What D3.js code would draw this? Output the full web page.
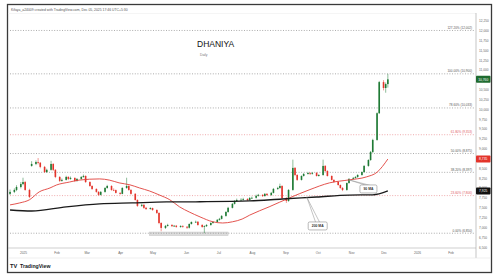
<!DOCTYPE html>
<html>
<head>
<meta charset="utf-8">
<script src="https://cdnjs.cloudflare.com/ajax/libs/d3/7.8.5/d3.min.js"></script>
<style>
body { margin: 0; background: #fff; }
svg { display: block; font-family: "Liberation Sans", Arial, sans-serif; }
</style>
</head>
<body>
<div id="chart"></div>
<script>
// candles, one per 2 trading days starting 20 Dec 2024
var opens = [7850,7900,7950,8025,8100,8150,7950,8560,8610,8660,
    8640,8535,8405,8460,8610,8460,8280,8180,8205,8280,
    8230,8255,8180,8230,8280,8305,8150,8050,7975,7900,
    7825,7900,8000,8050,7950,7945,7875,7850,8000,8050,
    7950,7850,7695,7545,7570,7495,7465,7490,7440,7365,
    7110,6985,7035,7060,7030,7040,7010,7035,7015,6990,
    7085,7135,7140,7060,7010,7030,7060,7110,7135,7190,
    7215,7290,7390,7495,7595,7670,7695,7700,7720,7690,
    7745,7750,7800,7825,7795,7850,7820,7875,7975,8000,
    8050,7745,7670,7950,8510,8330,8205,8305,8355,8380,
    8360,8385,8305,8330,8560,8430,8305,8205,8155,8075,
    8000,7950,8125,8230,8255,8280,8330,8405,8560,8710,
    8915,9220,9900,10690,10540,10640];
var highs = [7960,7990,8070,8150,8260,8180,7980,8680,8700,8760,
    8660,8560,8490,8690,8630,8480,8300,8240,8310,8300,
    8290,8270,8250,8300,8340,8320,8170,8070,7990,7920,
    7920,8020,8080,8070,7990,7960,7890,8020,8260,8070,
    7970,7870,7710,7600,7590,7520,7510,7500,7460,7380,
    7130,7060,7090,7080,7060,7060,7050,7050,7030,7100,
    7150,7170,7160,7080,7050,7080,7130,7160,7210,7240,
    7310,7410,7520,7620,7690,7730,7740,7750,7740,7770,
    7780,7830,7850,7840,7870,7870,7900,8000,8030,8110,
    8070,7770,7970,8720,8530,8350,8320,8380,8410,8400,
    8400,8400,8350,8720,8580,8450,8320,8220,8170,8090,
    8020,8140,8250,8280,8300,8350,8420,8580,8730,8940,
    9250,9920,10720,10740,10680,10900];
var lows = [7820,7870,7920,7990,8070,7930,7740,8540,8580,8600,
    8500,8380,8380,8440,8430,8250,8150,8160,8190,8200,
    8210,8150,8160,8210,8260,8130,8030,7950,7880,7800,
    7810,7880,7980,7930,7920,7860,7830,7840,7980,7930,
    7830,7680,7520,7520,7470,7440,7450,7420,7340,7080,
    6900,6960,7020,7010,7010,6990,6990,6990,6960,6970,
    7070,7110,7040,6990,6850,7010,7040,7090,7120,7170,
    7200,7270,7370,7480,7580,7650,7670,7680,7670,7680,
    7720,7730,7780,7770,7780,7800,7800,7860,7950,7980,
    7720,7620,7650,7930,8300,8180,8190,8290,8340,8330,
    8340,8290,8290,8310,8410,8290,8190,8130,8060,7980,
    7920,7930,8110,8210,8240,8260,8310,8390,8540,8690,
    8890,9200,9880,10480,10420,10550];
var closes = [7900,7950,8025,8100,8150,7950,7770,8610,8660,8640,
    8535,8405,8460,8610,8460,8280,8180,8205,8280,8230,
    8255,8180,8230,8280,8305,8150,8050,7975,7900,7825,
    7900,8000,8050,7950,7945,7875,7850,8000,8050,7950,
    7850,7695,7545,7570,7495,7465,7490,7440,7365,7110,
    6985,7035,7060,7030,7040,7010,7035,7015,6990,7085,
    7135,7140,7060,7010,7030,7060,7110,7135,7190,7215,
    7290,7390,7495,7595,7670,7695,7700,7720,7690,7745,
    7750,7800,7825,7795,7850,7820,7875,7975,8000,8050,
    7745,7670,7950,8510,8330,8205,8305,8355,8380,8360,
    8385,8305,8330,8560,8430,8305,8205,8155,8075,8000,
    7950,8125,8230,8255,8280,8330,8405,8560,8710,8915,
    9220,9900,10690,10540,10640,10760];

// moving averages
var ma90Dates = ["2024-12-20","2024-12-29","2025-01-07","2025-01-16","2025-01-26","2025-02-01",
    "2025-02-13","2025-02-22","2025-03-13","2025-03-22","2025-03-31","2025-04-10","2025-04-19",
    "2025-04-28","2025-05-07","2025-05-17","2025-05-26","2025-06-04","2025-06-14","2025-06-26",
    "2025-07-05","2025-07-14","2025-07-23","2025-07-30","2025-08-17","2025-09-05","2025-09-23",
    "2025-10-12","2025-10-30","2025-11-15","2025-11-25","2025-12-05"];
var ma90Values = [7570,7620,7700,7900,8000,8075,8150,8200,8230,8200,8130,8080,8000,
    7925,7825,7700,7520,7390,7265,7140,7110,7140,7210,7310,7520,7750,7950,
    8130,8205,8280,8400,8735];
var ma200Dates = ["2024-12-20","2025-01-09","2025-02-10","2025-03-13","2025-04-12","2025-05-14",
    "2025-06-14","2025-07-30","2025-08-29","2025-09-30","2025-10-30","2025-11-21","2025-12-05"];
var ma200Values = [7440,7415,7520,7595,7620,7645,7650,7670,7720,7770,7820,7825,7925];

var fibLevels = [0, 23.6, 38.2, 50, 61.8, 78.6, 100, 127.2];
var fibRed = [23.6, 61.8];
var fibLow = 6850, fibHigh = 10900;
var priceTicks = d3.range(6500, 12251, 250);
var lastPrice = 10760;

var w = 500, h = 280;
var green = "#1f7a35", red = "#e3342b";

var svg = d3.select("#chart").append("svg").attr("width", w).attr("height", h);

var x = d3.scaleTime()
    .domain([new Date(2025, 0, 1), new Date(2026, 0, 1)])
    .range([23, 417]);
var y = d3.scaleLinear().domain([6500, 12250]).range([247, 20.7]);

// trading-day dates for the candles
var dates = [];
var day = new Date(2024, 11, 20), n = 0;
while (dates.length < closes.length) {
    if (day.getDay() != 0 && day.getDay() != 6) {
        if (n % 2 == 0) dates.push(new Date(day));
        n++;
    }
    day = d3.timeDay.offset(day, 1);
}

// frame
svg.append("rect").attr("x", 7.5).attr("y", 4.5).attr("width", 484).attr("height", 268)
    .attr("fill", "#fff").attr("stroke", "#3a3a3a").attr("stroke-width", 1.3);
svg.append("text").attr("x", 11).attr("y", 11)
    .attr("font-size", "3.4px").attr("fill", "#555")
    .text("Kifaya_a24009 created with TradingView.com, Dec 05, 2025 17:46 UTC+5:30");
svg.append("line").attr("x1", 8).attr("x2", 476).attr("y1", 13.5).attr("y2", 13.5)
    .attr("stroke", "#eee").attr("stroke-width", 0.6);

// watermark
svg.append("text").attr("x", 197).attr("y", 47).attr("font-size", "8.5px")
    .attr("fill", "#111").text("DHANIYA");
svg.append("text").attr("x", 200).attr("y", 56).attr("font-size", "3.4px")
    .attr("fill", "#777").text("Daily");

var plot = svg.append("g");

// support box
plot.append("rect")
    .attr("x", x(new Date(2025, 3, 28))).attr("y", y(6880))
    .attr("width", x(new Date(2025, 6, 10)) - x(new Date(2025, 3, 28)))
    .attr("height", y(6790) - y(6880))
    .attr("fill", "#dcdcdc").attr("stroke", "#c4c4c4").attr("stroke-width", 0.5);

// fib levels
var fmt = d3.format(",.0f");
var fibs = fibLevels.map(function(l) {
    return {level: l, value: fibLow + (fibHigh - fibLow) * l / 100, red: fibRed.indexOf(l) >= 0};
});
plot.selectAll("line.fib").data(fibs).enter().append("line")
    .attr("x1", 10).attr("x2", 474)
    .attr("y1", function(d) { return y(d.value); })
    .attr("y2", function(d) { return y(d.value); })
    .attr("stroke", function(d) { return d.red ? "#e8868a" : "#8a8a8a"; })
    .attr("stroke-width", 0.7).attr("stroke-dasharray", "1,1.6");
plot.selectAll("text.fib").data(fibs).enter().append("text")
    .attr("x", 472).attr("y", function(d) { return y(d.value) - 1.6; })
    .attr("text-anchor", "end").attr("font-size", "3.1px")
    .attr("fill", function(d) { return d.red ? "#e05a5f" : "#555"; })
    .text(function(d) { return d.level.toFixed(2) + "% (" + fmt(d.value) + ")"; });

// candles
var candles = closes.map(function(c, i) {
    return {date: dates[i], o: opens[i], h: highs[i], l: lows[i], c: c};
});
plot.selectAll("line.wick").data(candles).enter().append("line")
    .attr("x1", function(d) { return x(d.date); })
    .attr("x2", function(d) { return x(d.date); })
    .attr("y1", function(d) { return y(d.h); })
    .attr("y2", function(d) { return y(d.l); })
    .attr("stroke", function(d) { return d.c >= d.o ? green : red; })
    .attr("stroke-width", 0.5);
plot.selectAll("rect.body").data(candles).enter().append("rect")
    .attr("x", function(d) { return x(d.date) - 0.8; })
    .attr("width", 1.6)
    .attr("y", function(d) { return y(Math.max(d.o, d.c)); })
    .attr("height", function(d) { return Math.max(0.7, Math.abs(y(d.o) - y(d.c))); })
    .attr("fill", function(d) { return d.c >= d.o ? green : red; });

// moving averages
var line = d3.line()
    .x(function(d) { return x(d[0]); })
    .y(function(d) { return y(d[1]); })
    .curve(d3.curveMonotoneX);
var parse = d3.timeParse("%Y-%m-%d");
var ma90 = ma90Dates.map(function(d, i) { return [parse(d), ma90Values[i]]; });
var ma200 = ma200Dates.map(function(d, i) { return [parse(d), ma200Values[i]]; });
plot.append("path").datum(ma90).attr("d", line)
    .attr("fill", "none").attr("stroke", "#e0403a").attr("stroke-width", 0.9);
plot.append("path").datum(ma200).attr("d", line)
    .attr("fill", "none").attr("stroke", "#1a1a1a").attr("stroke-width", 1.3);

// callouts
function callout(label, tipDate, tipVal, boxDate, boxVal, bw) {
    var bx = x(boxDate), by = y(boxVal);
    var tx = x(tipDate), ty = y(tipVal);
    svg.append("path")
        .attr("d", "M" + (bx - 2) + "," + (by - 3.5) + "L" + tx + "," + ty + "L" + (bx + 2) + "," + (by - 3.5))
        .attr("fill", "#fff").attr("stroke", "#8a8a8a").attr("stroke-width", 0.5);
    svg.append("rect").attr("x", bx - bw / 2).attr("y", by - 4).attr("width", bw).attr("height", 8)
        .attr("rx", 1.5).attr("fill", "#fff").attr("stroke", "#8a8a8a").attr("stroke-width", 0.6);
    svg.append("text").attr("x", bx).attr("y", by + 1.2).attr("text-anchor", "middle")
        .attr("font-size", "3.4px").attr("font-weight", "bold").attr("fill", "#333").text(label);
}
callout("90 MA", new Date(2025, 9, 30), 8205, new Date(2025, 10, 17), 7975, 17);
callout("200 MA", new Date(2025, 8, 21), 7760, new Date(2025, 9, 1), 7035, 19);

// price axis
var yAxis = d3.axisRight(y).tickValues(priceTicks).tickSize(0).tickPadding(3)
    .tickFormat(d3.format(","));
var ya = svg.append("g").attr("transform", "translate(476,0)").call(yAxis);
ya.select(".domain").remove();
ya.selectAll("text").attr("font-size", "3.2px").attr("fill", "#666").attr("font-family", "inherit");
svg.append("line").attr("x1", 476).attr("x2", 476).attr("y1", 13).attr("y2", 258)
    .attr("stroke", "#a0a0a0").attr("stroke-width", 0.6);

// time axis
var months = d3.timeMonth.range(new Date(2025, 0, 1), new Date(2026, 1, 2));
var xAxis = d3.axisBottom(x).tickValues(months).tickSize(0).tickPadding(4)
    .tickFormat(function(d) { return d.getMonth() == 0 ? d3.timeFormat("%Y")(d) : d3.timeFormat("%b")(d); });
var xa = svg.append("g").attr("transform", "translate(0,248)").call(xAxis);
xa.select(".domain").remove();
xa.selectAll("text").attr("font-size", "3.2px").attr("fill", "#666").attr("font-family", "inherit");
svg.append("line").attr("x1", 8).attr("x2", 476).attr("y1", 248).attr("y2", 248)
    .attr("stroke", "#b0b0b0").attr("stroke-width", 0.6);
svg.append("line").attr("x1", 8).attr("x2", 491).attr("y1", 258).attr("y2", 258)
    .attr("stroke", "#e4e4e4").attr("stroke-width", 0.6);

// price tags
var tags = [
    {v: lastPrice, fill: "#1e6b2f"},
    {v: ma90Values[ma90Values.length - 1], fill: "#e3342b"},
    {v: ma200Values[ma200Values.length - 1], fill: "#111"}
];
var tg = svg.selectAll("g.tag").data(tags).enter().append("g")
    .attr("transform", function(d) { return "translate(476," + y(d.v) + ")"; });
tg.append("rect").attr("x", 0).attr("y", -3.5).attr("width", 14.5).attr("height", 7)
    .attr("rx", 0.8).attr("fill", function(d) { return d.fill; });
tg.append("text").attr("x", 7.2).attr("y", 1.2).attr("text-anchor", "middle")
    .attr("font-size", "3.3px").attr("fill", "#fff")
    .text(function(d) { return fmt(d.v); });

// logo
svg.append("text").attr("x", 10).attr("y", 268).attr("font-size", "5.6px")
    .attr("font-weight", "bold").attr("fill", "#131722").text("TV");
svg.append("text").attr("x", 20).attr("y", 268).attr("font-size", "5.2px")
    .attr("font-weight", "bold").attr("fill", "#131722").text("TradingView");
</script>
</body>
</html>
